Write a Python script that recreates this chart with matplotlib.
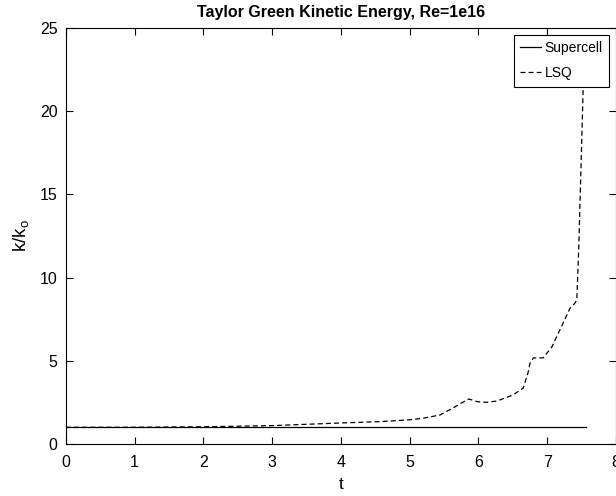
import matplotlib
matplotlib.use("Agg")
import matplotlib.pyplot as plt

plt.rcParams['font.family'] = ['Liberation Sans', 'DejaVu Sans']
plt.rcParams['mathtext.default'] = 'regular'

# Supercell: flat at 1
super_t = [0.0, 7.56]
super_k = [1.0, 1.0]

# LSQ
lsq_t = [0.0, 1.0, 2.0, 3.0, 3.5, 4.0, 4.57, 5.0, 5.19, 5.44, 5.63, 5.75, 5.83, 5.86,
         5.98, 6.12, 6.27, 6.5, 6.65, 6.72, 6.75, 6.8, 6.94, 7.07, 7.16, 7.23, 7.33,
         7.40, 7.43, 7.46, 7.49, 7.52, 7.54]
lsq_k = [1.0, 1.0, 1.03, 1.1, 1.18, 1.26, 1.34, 1.45, 1.54, 1.74, 2.16, 2.45, 2.64, 2.7,
         2.54, 2.5, 2.58, 2.94, 3.35, 4.27, 4.86, 5.17, 5.17, 5.85, 6.65, 7.25, 8.15,
         8.45, 8.65, 12.0, 16.5, 21.0, 24.0]

fig = plt.figure(figsize=(6.16, 4.96), dpi=100)
ax = fig.add_axes([0.107, 0.105, 0.893, 0.8385])

ax.plot(super_t, super_k, 'k-', lw=0.9, label='Supercell')
ax.plot(lsq_t, lsq_k, 'k--', lw=0.9, dashes=(4, 2.5), label='LSQ')

ax.set_xlim(0, 8)
ax.set_ylim(0, 25)
ax.set_xticks(range(0, 9))
ax.set_yticks(range(0, 26, 5))
ax.tick_params(direction='in', top=True, right=True, length=5, width=0.8,
               labelsize=11.5)
ax.tick_params(axis='x', pad=8)
ax.tick_params(axis='y', pad=6)
for s in ax.spines.values():
    s.set_linewidth(0.8)

ax.set_title('Taylor Green Kinetic Energy, Re=1e16', fontsize=11.5, fontweight='bold', pad=8)
ax.set_xlabel('t', fontsize=12.5, labelpad=5)
ax.set_ylabel('$k/k_o$', fontsize=13.5, labelpad=6)

leg = ax.legend(loc='upper right', fontsize=10, fancybox=False, framealpha=1,
                edgecolor='black', handlelength=1.5, handletextpad=0.25,
                borderpad=0.45, labelspacing=0.8, borderaxespad=0.5)
leg.get_frame().set_linewidth(0.8)

fig.savefig('out.png', dpi=100)
